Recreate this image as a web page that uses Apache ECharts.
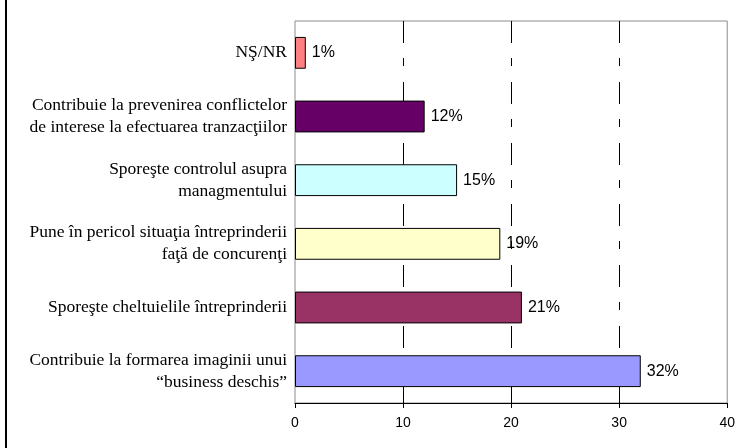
<!DOCTYPE html>
<html>
<head>
<meta charset="utf-8">
<script src="https://cdn.jsdelivr.net/npm/echarts@6/dist/echarts.min.js"></script>
<style>
  html, body { margin: 0; padding: 0; background: #fff; }
  #chart { width: 738px; height: 448px; }
</style>
</head>
<body>
<div id="chart"></div>
<script>
// Survey answers, listed top to bottom as they appear on the chart
const categories = [
  'NŞ/NR',
  'Contribuie la prevenirea conflictelor\nde interese la efectuarea tranzacţiilor',
  'Sporeşte controlul asupra\nmanagmentului',
  'Pune în pericol situaţia întreprinderii\nfaţă de concurenţi',
  'Sporeşte cheltuielile întreprinderii',
  'Contribuie la formarea imaginii unui\n“business deschis”'
];
// Share of respondents, percent
const values = [1, 12, 15, 19, 21, 32];
const barColors = ['#FF8080', '#660066', '#CCFFFF', '#FFFFCC', '#993366', '#9999FF'];
const xTicks = [0, 10, 20, 30, 40];

const chart = echarts.init(document.getElementById('chart'), null, { renderer: 'canvas' });

chart.setOption({
  animation: false,
  backgroundColor: '#ffffff',
  graphic: [{
    type: 'rect',
    shape: { x: 5, y: 0, width: 2, height: 448 },
    style: { fill: '#000' },
    silent: true
  }],
  grid: {
    left: 295, right: 10, top: 21, bottom: 45,
    show: true,
    borderColor: '#8c8c8c',
    borderWidth: 1,
    backgroundColor: 'transparent'
  },
  xAxis: {
    type: 'value',
    min: xTicks[0],
    max: xTicks[xTicks.length - 1],
    interval: 10,
    axisLine: { show: true, lineStyle: { color: '#000', width: 1 } },
    axisTick: { show: true, length: 5, lineStyle: { color: '#000' } },
    axisLabel: {
      margin: 13,
      color: '#000',
      fontFamily: 'Liberation Sans, Arial, sans-serif',
      fontSize: 14
    },
    splitLine: {
      show: true,
      lineStyle: {
        // no line at 0 and 40: the plot frame is there
        color: ['transparent', '#000', '#000', '#000', 'transparent'],
        width: 1,
        type: [22, 15, 8, 16]
      }
    }
  },
  yAxis: {
    type: 'category',
    inverse: true,
    data: categories,
    axisLine: { show: false },
    axisTick: { show: false },
    axisLabel: {
      margin: 8,
      color: '#000',
      fontFamily: 'Liberation Serif, Times New Roman, serif',
      fontSize: 17.5,
      lineHeight: 22,
      align: 'right'
    }
  },
  series: [{
    type: 'bar',
    barCategoryGap: '50%',
    data: values.map((v, i) => ({
      value: v,
      itemStyle: { color: barColors[i] }
    })),
    itemStyle: { borderColor: '#000', borderWidth: 1 },
    label: {
      show: true,
      position: 'right',
      distance: 6,
      formatter: '{c}%',
      color: '#000',
      fontFamily: 'Liberation Sans, Arial, sans-serif',
      fontSize: 16
    },
    z: 3
  }]
});
</script>
</body>
</html>
